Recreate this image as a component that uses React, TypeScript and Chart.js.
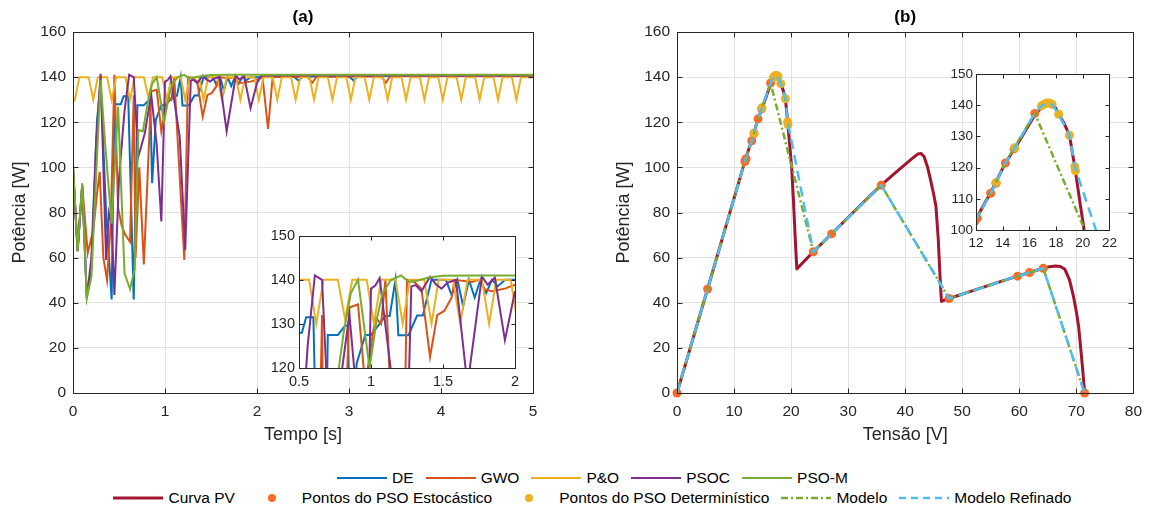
import React, { useEffect, useRef } from 'react';
import { Chart, registerables } from 'chart.js';
Chart.register(...registerables);

const FONT = 'Arial, "Liberation Sans", Helvetica, sans-serif';
const INK = '#262626';
const GRID = '#e2e2e2';

// ---------------- (a) data: time [s] and power [W] ----------------
const deT = [0, 0.05, 0.10, 0.15, 0.20, 0.26, 0.30, 0.36, 0.42, 0.45, 0.52, 0.55, 0.60, 0.66, 0.70, 0.77, 0.82, 0.84, 0.86, 0.90, 0.96, 1.00, 1.05, 1.10, 1.13, 1.17, 1.19, 1.26, 1.32, 1.36, 1.42, 1.52, 1.56, 1.60, 1.64, 1.68, 1.72, 1.76, 1.80, 1.84, 1.88, 1.93, 2.00, 2.10, 2.40, 2.45, 2.50, 3.00, 3.05, 3.10, 3.50, 5.00];
const deV = [100, 63, 92, 43, 55, 120, 138, 80, 41.5, 128, 128, 131.5, 131.5, 41.5, 127.5, 127.5, 129.6, 129.6, 93, 121, 127.5, 127.5, 129.6, 131.8, 131.8, 140, 127.4, 127.4, 131.9, 131.9, 140, 140, 136.5, 140, 134, 140, 136, 140, 137, 140, 138.5, 140, 140, 140.2, 140.2, 138.5, 140.3, 140.4, 138.5, 140.5, 140.6, 140.6];

const goT = [0, 0.05, 0.10, 0.16, 0.22, 0.26, 0.29, 0.33, 0.37, 0.41, 0.45, 0.49, 0.53, 0.57, 0.62, 0.66, 0.68, 0.72, 0.77, 0.81, 0.85, 0.91, 0.96, 1.03, 1.07, 1.10, 1.21, 1.25, 1.30, 1.35, 1.41, 1.46, 1.51, 1.56, 1.58, 1.70, 1.75, 1.79, 1.84, 1.93, 2.00, 2.06, 2.12, 2.17, 2.55, 2.60, 2.65, 3.35, 3.40, 3.45, 5.00];
const goV = [100, 63, 92, 62, 72, 88, 98, 60, 50, 75, 141, 82, 74, 70, 67, 132, 60, 100, 57, 95, 133.7, 134.4, 116, 131.5, 130, 140, 59, 140, 139.5, 138, 122.5, 132, 133, 136, 140, 139.5, 140, 137.8, 137.4, 138, 138.9, 140, 117, 140, 140.2, 137.5, 140.3, 140.4, 137.5, 140.5, 140.5];

const pnoT = [0, 0.02, 0.07, 0.12, 0.17, 0.22, 0.27, 0.32, 0.37, 0.42, 0.47, 0.52, 0.57, 0.62, 0.67, 0.72, 0.77, 0.82, 0.87, 0.92, 0.97, 1.02, 1.07, 1.12, 1.17, 1.22, 1.27, 1.32, 1.37, 1.42, 1.47, 1.52, 1.57, 1.62, 1.67, 1.72, 1.77, 1.82, 1.87, 1.92, 1.97, 2.02, 2.07, 2.12, 2.17, 2.22, 2.27, 2.32, 2.37, 2.42, 2.47, 2.52, 2.57, 2.62, 2.67, 2.72, 2.77, 2.82, 2.87, 2.92, 2.97, 3.02, 3.07, 3.12, 3.17, 3.22, 3.27, 3.32, 3.37, 3.42, 3.47, 3.52, 3.57, 3.62, 3.67, 3.72, 3.77, 3.82, 3.87, 3.92, 3.97, 4.02, 4.07, 4.12, 4.17, 4.22, 4.27, 4.32, 4.37, 4.42, 4.47, 4.52, 4.57, 4.62, 4.67, 4.72, 4.77, 4.82, 4.87, 4.92, 4.97, 5.00];
const pnoV = [129,
  130, 140, 140, 140, 130, 140, 140, 140, 130, 140, 140, 140, 130, 140, 140, 140, 131, 140, 140, 140,
  130, 140, 140, 140, 130, 140, 140, 140, 130, 140, 140, 140, 130, 140, 140, 140, 130, 140, 140, 140,
  130, 140, 140, 140, 130, 140, 140, 140, 130, 140, 140, 140, 130, 140, 140, 140, 130, 140, 140, 140,
  130, 140, 140, 140, 130, 140, 140, 140, 130, 140, 140, 140, 130, 140, 140, 140, 130, 140, 140, 140,
  130, 140, 140, 140, 130, 140, 140, 140, 130, 140, 140, 140, 130, 140, 140, 140, 130, 140, 140, 140,
  140];

const psT = [0, 0.05, 0.10, 0.15, 0.20, 0.25, 0.30, 0.36, 0.39, 0.42, 0.45, 0.50, 0.56, 0.61, 0.66, 0.71, 0.78, 0.85, 0.91, 0.96, 1.00, 1.03, 1.06, 1.16, 1.22, 1.28, 1.31, 1.35, 1.41, 1.45, 1.49, 1.53, 1.59, 1.67, 1.77, 1.81, 1.86, 1.93, 2.00, 2.05, 5.00];
const psV = [100, 63, 92, 42, 60, 110, 141.5, 59, 80, 75, 43.5, 95, 125, 141, 140, 104.7, 115, 132.2, 110, 76, 138, 138.7, 140.4, 113.6, 63.4, 138.5, 138.8, 137.4, 140.7, 139, 138, 139.3, 140, 116, 140.7, 138.9, 140.5, 126.3, 137.4, 140.7, 140.7];

const pmT = [0, 0.05, 0.10, 0.15, 0.20, 0.30, 0.35, 0.42, 0.49, 0.56, 0.62, 0.67, 0.71, 0.76, 0.81, 0.86, 0.91, 0.99, 1.04, 1.08, 1.14, 1.21, 1.26, 1.32, 1.40, 1.50, 1.70, 5.00];
const pmV = [102, 62.6, 93, 42, 51.5, 138.7, 110, 75, 127, 53, 46, 55, 116.6, 116, 128, 137, 140, 120, 131, 137, 140, 141, 139.5, 139.8, 140.5, 140.9, 141, 141];

const namesA = ['DE', 'GWO', 'P&O', 'PSOC', 'PSO-M'];
const colorsA = ['#0072BD', '#D95319', '#EDB120', '#7E2F8E', '#77AC30'];
const timesA = [deT, goT, pnoT, psT, pmT];
const valuesA = [deV, goV, pnoV, psV, pmV];

// ---------------- (b) data: voltage [V] and power [W] ----------------
const pvV = [0, 5.36, 11.9, 13.1, 14.2, 15.0, 16.0, 16.5, 17.0, 17.4, 17.8, 18.2, 18.6, 19.0, 19.4, 19.8, 20.1, 20.4, 20.7, 21.0, 23.9, 27.1, 30.0, 33.0, 35.8, 38.0, 40.0, 41.5, 42.2, 42.8, 43.3, 43.9, 44.4, 45.0, 45.4, 45.8, 46.1, 46.35, 47.7, 52.0, 56.0, 59.7, 61.8, 64.2, 65.3, 66.3, 67.2, 68.0, 68.8, 69.5, 70.0, 70.4, 70.8, 71.15, 71.45];
const pvP = [0, 46.1, 102.8, 112, 121.5, 126.8, 134, 137.4, 139.8, 140.8, 140.4, 137.1, 134.2, 130.4, 120.3, 108.5, 100, 86, 70, 55, 62.6, 70.5, 77.8, 85.3, 92.1, 97, 101.3, 104.5, 105.9, 106.1, 104.8, 100.3, 95, 88, 82.6, 68, 52, 40.6, 41.9, 45.5, 48.8, 51.8, 53.4, 55.3, 56, 56.3, 56.1, 54.8, 50.1, 42.8, 36, 29.5, 19, 9.5, 0];

const estV = [0, 5.36, 11.9, 12.1, 13.1, 13.5, 14.2, 14.85, 16.4, 23.9, 27.1, 35.8, 47.7, 59.7, 61.8, 64.2, 71.45];
const estP = [0, 46.1, 102.6, 103.8, 111.8, 115, 121.5, 126, 137.4, 62.6, 70.5, 92.1, 41.9, 51.8, 53.4, 55.3, 0];

const detV = [13.5, 14.9, 16.9, 17.1, 17.3, 17.5, 17.7, 18.2, 19.0, 19.4, 19.45];
const detP = [115.2, 126.4, 139.8, 140.3, 140.7, 140.7, 140.3, 137.1, 130.4, 120.3, 119];

const modV = [0, 5.36, 11.9, 13.1, 14.2, 16.4, 23.9, 27.1, 35.8, 47.7, 59.7, 61.8, 64.2, 71.45];
const modP = [0, 46.1, 102.6, 111.8, 121.5, 137.4, 62.6, 70.5, 92.1, 41.9, 51.8, 53.4, 55.3, 0];

const refV = [0, 5.36, 11.9, 13.1, 13.5, 14.2, 14.9, 16.4, 16.9, 17.3, 17.7, 18.2, 19.0, 19.4, 23.9, 27.1, 35.8, 47.7, 59.7, 61.8, 64.2, 71.45];
const refP = [0, 46.1, 102.6, 111.8, 115.2, 121.5, 126.4, 137.4, 139.8, 140.7, 140.3, 137.1, 130.4, 120.3, 62.6, 70.5, 92.1, 41.9, 51.8, 53.4, 55.3, 0];

const namesB = ['Curva PV', 'Pontos do PSO Estocástico', 'Pontos do PSO Determinístico', 'Modelo', 'Modelo Refinado'];
const colorsB = ['#A2142F', '#FF6929', '#EDB120', '#77AC30', '#4DBEEE'];

// axis ranges [min, max, step]
const xRangeA = [0, 5, 1];
const xRangeB = [0, 80, 10];
const yRangeMain = [0, 160, 20];
const xRangeInsetA = [0.5, 2, 0.5];
const yRangeInsetA = [120, 150, 10];
const xRangeInsetB = [12, 22, 2];
const yRangeInsetB = [100, 150, 10];

const titles = ['(a)', '(b)'];
const xTitles = ['Tempo [s]', 'Tensão [V]'];
const yTitle = 'Potência [W]';

const pts = (xs: number[], ys: number[]) => xs.map((x, i) => ({ x, y: ys[i] }));
const fmt = (v: any) => String(Math.round(Number(v) * 1000) / 1000);

const datasetsA = () =>
  namesA.map((n, i) => ({
    label: n,
    data: pts(timesA[i], valuesA[i]),
    borderColor: colorsA[i],
    backgroundColor: colorsA[i],
    borderWidth: 2,
    pointRadius: 0,
    tension: 0,
    order: namesA.length - 1 - i,
  }));

const datasetsB = (isMain: boolean) => [
  { label: namesB[0], data: pts(pvV, pvP), borderColor: colorsB[0], backgroundColor: colorsB[0], borderWidth: 3, pointRadius: 0, borderJoinStyle: 'round', order: 4 },
  { label: namesB[1], data: pts(estV, estP), showLine: false, pointRadius: 4.5, pointBackgroundColor: colorsB[1], pointBorderColor: colorsB[1], pointBorderWidth: 0, borderColor: colorsB[1], backgroundColor: colorsB[1], order: 3, clip: isMain ? false : 0 },
  { label: namesB[2], data: pts(detV, detP), showLine: false, pointRadius: 4.5, pointBackgroundColor: colorsB[2], pointBorderColor: colorsB[2], pointBorderWidth: 0, borderColor: colorsB[2], backgroundColor: colorsB[2], order: 2, clip: isMain ? false : 0 },
  { label: namesB[3], data: pts(modV, modP), borderColor: colorsB[3], backgroundColor: colorsB[3], borderWidth: 2.5, borderDash: [7, 3, 2, 3], pointRadius: 0, order: 1 },
  { label: namesB[4], data: pts(refV, refP), borderColor: colorsB[4], backgroundColor: colorsB[4], borderWidth: 2.5, borderDash: [10, 6], pointRadius: 0, order: 0 },
];

const boxPlugin = {
  id: 'mbox',
  beforeDraw(chart: any, _a: any, opts: any) {
    if (!opts || !opts.fill) return;
    const { ctx, chartArea: a } = chart;
    ctx.save();
    ctx.fillStyle = '#ffffff';
    ctx.fillRect(a.left, a.top, a.right - a.left, a.bottom - a.top);
    ctx.restore();
  },
  afterDatasetsDraw(chart: any, _a: any, opts: any) {
    const { ctx, chartArea: a, scales } = chart;
    const tl = (opts && opts.tick) || 5;
    const al = (v: number) => Math.round(v) + 0.5;
    const L = al(a.left), R = al(a.right), T = al(a.top), B = al(a.bottom);
    ctx.save();
    ctx.strokeStyle = INK;
    ctx.lineWidth = 1;
    ctx.setLineDash([]);
    ctx.beginPath();
    ctx.rect(L, T, R - L, B - T);
    for (const t of scales.x.ticks) {
      const p = al(scales.x.getPixelForValue(t.value));
      ctx.moveTo(p, B); ctx.lineTo(p, B - tl);
      ctx.moveTo(p, T); ctx.lineTo(p, T + tl);
    }
    for (const t of scales.y.ticks) {
      const p = al(scales.y.getPixelForValue(t.value));
      ctx.moveTo(L, p); ctx.lineTo(L + tl, p);
      ctx.moveTo(R, p); ctx.lineTo(R - tl, p);
    }
    ctx.stroke();
    ctx.restore();
  },
};

function mainConfig(datasets: any[], xr: number[], title: string, xTitle: string, padRight: number) {
  const tickFont = { family: FONT, size: 15.5 };
  const titleFont = { family: FONT, size: 18 };
  return {
    type: 'line',
    data: { datasets },
    plugins: [boxPlugin],
    options: {
      responsive: false,
      animation: false,
      events: [],
      layout: { padding: { left: 0, right: padRight, top: 0, bottom: 0 } },
      plugins: {
        legend: { display: false },
        tooltip: { enabled: false },
        title: { display: true, text: title, fullSize: false, color: '#000', font: { family: FONT, size: 17, weight: 'bold' }, padding: { top: 6.8, bottom: 4.8 } },
        mbox: { tick: 5, fill: false },
      },
      scales: {
        x: {
          type: 'linear', min: xr[0], max: xr[1],
          ticks: { stepSize: xr[2], padding: 9, color: INK, font: tickFont, maxRotation: 0, autoSkip: false, callback: fmt },
          grid: { color: GRID, drawTicks: false, lineWidth: 1 },
          border: { display: false },
          title: { display: true, text: xTitle, color: INK, font: titleFont, padding: { top: 0, bottom: 14 } },
          afterFit: (s: any) => { s.height = 67; },
        },
        y: {
          type: 'linear', min: yRangeMain[0], max: yRangeMain[1],
          ticks: { stepSize: yRangeMain[2], padding: 7, color: INK, font: tickFont, autoSkip: false, callback: fmt },
          grid: { color: GRID, drawTicks: false, lineWidth: 1 },
          border: { display: false },
          title: { display: true, text: yTitle, color: INK, font: titleFont, padding: { top: 9, bottom: 0 } },
          afterFit: (s: any) => { s.width = 73; },
        },
      },
    },
  };
}

function insetConfig(datasets: any[], xr: number[], yr: number[], fontSize: number, yW: number, xH: number, padR: number, padT: number, xPad: number, yPad: number) {
  const tickFont = { family: FONT, size: fontSize };
  return {
    type: 'line',
    data: { datasets },
    plugins: [boxPlugin],
    options: {
      responsive: false,
      animation: false,
      events: [],
      layout: { padding: { left: 0, right: padR, top: padT, bottom: 0 } },
      plugins: {
        legend: { display: false },
        tooltip: { enabled: false },
        title: { display: false },
        mbox: { tick: 4, fill: true },
      },
      scales: {
        x: {
          type: 'linear', min: xr[0], max: xr[1],
          ticks: { stepSize: xr[2], padding: xPad, color: INK, font: tickFont, maxRotation: 0, autoSkip: false, callback: fmt },
          grid: { display: false, drawTicks: false },
          border: { display: false },
          afterFit: (s: any) => { s.height = xH; },
        },
        y: {
          type: 'linear', min: yr[0], max: yr[1],
          ticks: { stepSize: yr[2], padding: yPad, color: INK, font: tickFont, autoSkip: false, callback: fmt },
          grid: { display: false, drawTicks: false },
          border: { display: false },
          afterFit: (s: any) => { s.width = yW; },
        },
      },
    },
  };
}

function ChartCanvas(props: { left: number; top: number; width: number; height: number; make: () => any }) {
  const ref = useRef<HTMLCanvasElement>(null);
  useEffect(() => {
    const c = new Chart(ref.current as HTMLCanvasElement, props.make());
    return () => c.destroy();
  }, []);
  return (
    <canvas
      ref={ref}
      width={props.width}
      height={props.height}
      style={{ position: 'absolute', left: props.left, top: props.top, width: props.width, height: props.height }}
    />
  );
}

function LegendIcon({ kind, color, width, dash }: { kind: string; color: string; width?: number; dash?: string }) {
  return (
    <svg width={50} height={20} style={{ display: 'block', flex: '0 0 auto' }}>
      {kind === 'line' ? (
        <line x1={0} y1={10} x2={50} y2={10} stroke={color} strokeWidth={width || 2} strokeDasharray={dash} />
      ) : (
        <circle cx={25} cy={10} r={4} fill={color} />
      )}
    </svg>
  );
}

const legendRow1 = namesA.map((n, i) => ({ label: n, color: colorsA[i], kind: 'line', width: 2, dash: undefined as string | undefined }));
const legendRow2 = [
  { label: namesB[0], color: colorsB[0], kind: 'line', width: 3, dash: undefined as string | undefined },
  { label: namesB[1], color: colorsB[1], kind: 'dot', width: 0, dash: undefined },
  { label: namesB[2], color: colorsB[2], kind: 'dot', width: 0, dash: undefined },
  { label: namesB[3], color: colorsB[3], kind: 'line', width: 2.5, dash: '7 3 2 3' },
  { label: namesB[4], color: colorsB[4], kind: 'line', width: 2.5, dash: '7 5' },
];

function LegendRow({ items, top }: { items: typeof legendRow1; top: number }) {
  return (
    <div
      style={{
        position: 'absolute', left: 0, width: 1185, top, height: 20,
        display: 'flex', justifyContent: 'center', alignItems: 'center', gap: 12,
        fontFamily: FONT, fontSize: 15.5, lineHeight: '20px', color: '#000', whiteSpace: 'nowrap',
      }}
    >
      {items.map((it) => (
        <div key={it.label} style={{ display: 'flex', alignItems: 'center' }}>
          <LegendIcon kind={it.kind} color={it.color} width={it.width} dash={it.dash} />
          <span style={{ marginLeft: 5 }}>{it.label}</span>
        </div>
      ))}
    </div>
  );
}

export default function App() {
  return (
    <div style={{ position: 'fixed', left: 0, top: 0, width: 1151, height: 510, background: '#fff', overflow: 'hidden' }}>
      <ChartCanvas left={0} top={0} width={560} height={460} make={() => mainConfig(datasetsA(), xRangeA, titles[0], xTitles[0], 27)} />
      <ChartCanvas left={604} top={0} width={547} height={460} make={() => mainConfig(datasetsB(true), xRangeB, titles[1], xTitles[1], 14)} />
      <ChartCanvas left={255} top={223} width={270} height={170} make={() => insetConfig(datasetsA(), xRangeInsetA, yRangeInsetA, 14.5, 44, 25, 10, 10, 5, 4)} />
      <ChartCanvas left={936} top={63} width={186} height={195} make={() => insetConfig(datasetsB(false), xRangeInsetB, yRangeInsetB, 13.5, 40, 28, 9, 10.3, 5, 3)} />
      <LegendRow items={legendRow1} top={467.7} />
      <LegendRow items={legendRow2} top={488.3} />
    </div>
  );
}
